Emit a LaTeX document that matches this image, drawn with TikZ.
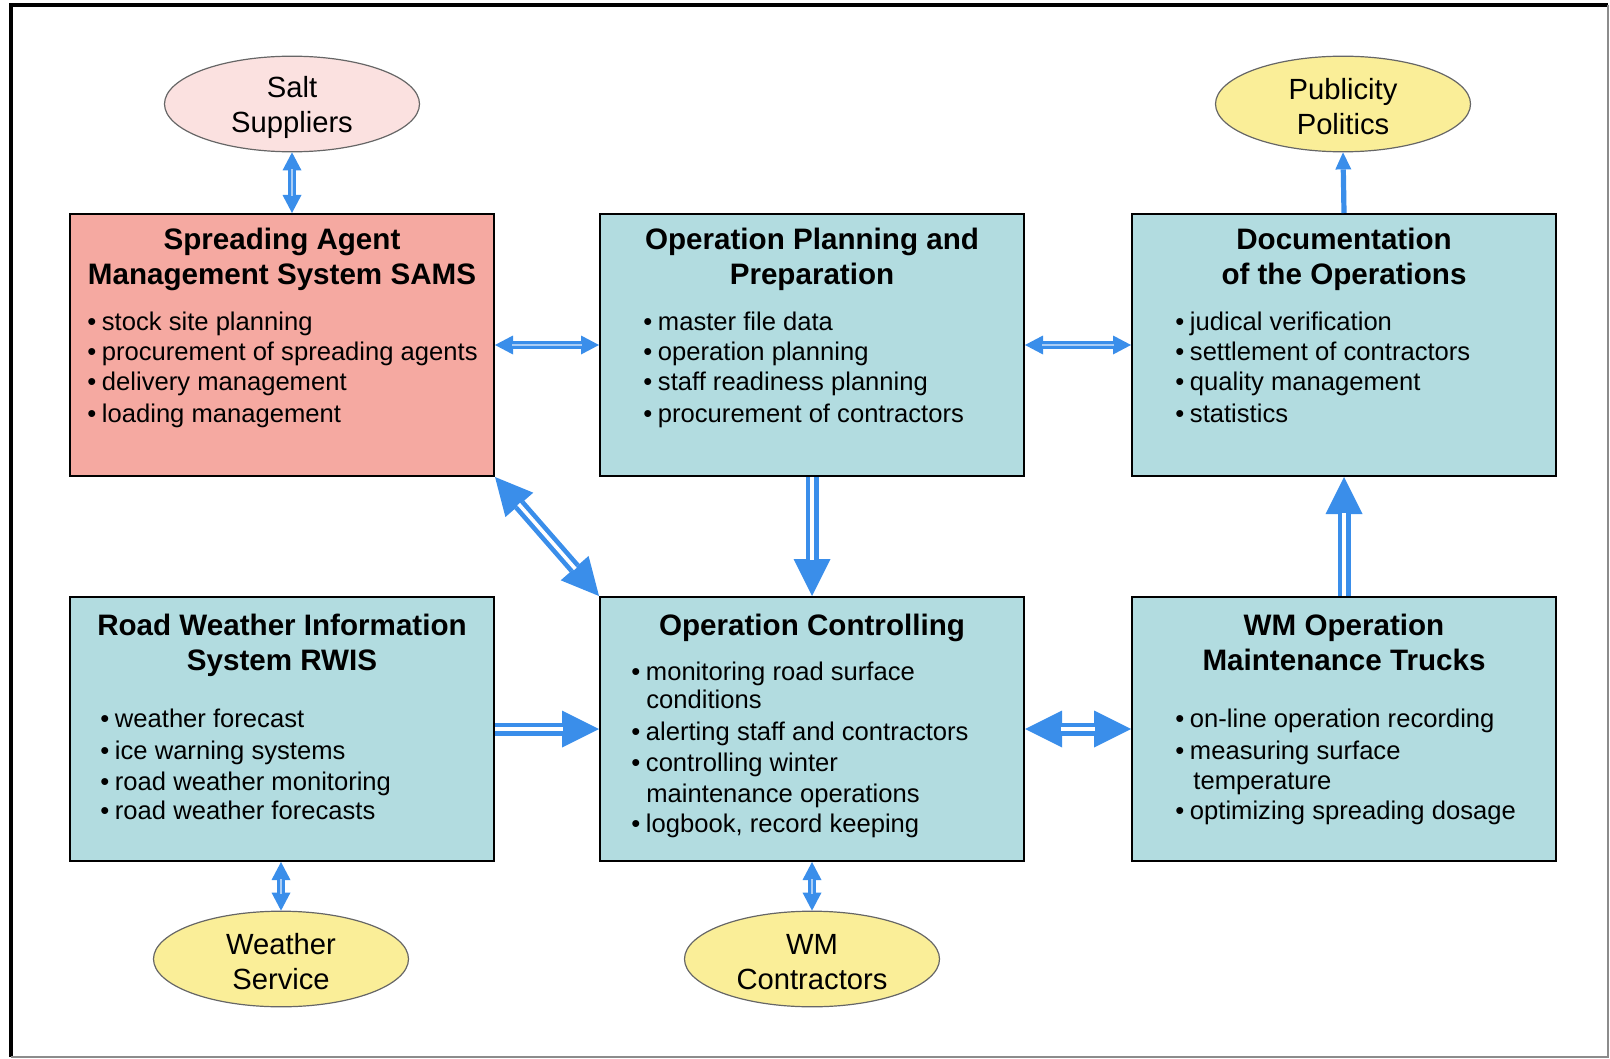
\documentclass[tikz,border=0pt]{standalone}
\usepackage{fontspec}
\setmainfont{Liberation Sans}
\usetikzlibrary{arrows.meta,shapes.geometric}
\definecolor{salmon}{RGB}{245,169,161}
\definecolor{tealfill}{RGB}{178,220,224}
\definecolor{pinkell}{RGB}{251,225,224}
\definecolor{yellell}{RGB}{250,238,152}
\definecolor{arrblue}{RGB}{58,142,234}
\definecolor{lightblue}{RGB}{170,205,245}
\tikzset{
  sm/.tip={Triangle[length=9pt,width=9.5pt,line width=0pt]},
  bg/.tip={Triangle[length=18.5pt,width=18.5pt,line width=0pt]},
  pt/.tip={Triangle[length=8.5pt,width=8pt,line width=0pt]},
  boxa/.style={draw=black, line width=1pt, minimum width=212pt, minimum height=131pt, inner sep=0pt},
  boxb/.style={draw=black, line width=1pt, minimum width=212pt, minimum height=132pt, inner sep=0pt},
  ell/.style={ellipse, draw=black!60, line width=0.6pt, minimum width=127.5pt, minimum height=47.8pt, inner sep=0pt},
  elltxt/.style={inner sep=0pt, align=center, font=\fontsize{14.6pt}{17.5pt}\selectfont},
  ttl/.style={font=\fontsize{14.8pt}{17.5pt}\selectfont\bfseries, inner sep=0pt, anchor=mid},
  itm/.style={font=\fontsize{12.8pt}{15pt}\selectfont, inner sep=0pt, anchor=mid west},
  smallboth/.style={arrblue, line width=4pt, sm-sm},
  smallgap/.style={lightblue, line width=1.4pt, shorten <=8.5pt, shorten >=8.5pt},
  bigboth/.style={arrblue, line width=6.5pt, bg-bg},
  bigend/.style={arrblue, line width=6.5pt, -bg},
  biggapboth/.style={white, line width=1.8pt, shorten <=18pt, shorten >=18pt},
  biggapend/.style={white, line width=1.8pt, shorten >=18pt},
  single/.style={arrblue, line width=2.6pt, -pt},
}
\newcommand{\bl}{\textbullet\hspace{2.8pt}}
\begin{document}
\begin{tikzpicture}[x=0.5pt,y=-0.5pt]
\useasboundingbox (0,0) rectangle (1610,1059);
% frame
\draw[line width=2pt] (11,1057) -- (11,5) -- (1608,5);
\draw[black!45, line width=0.8pt] (1608,5) -- (1608,1057) -- (11,1057);

% boxes
\node[boxa, fill=salmon] (sams) at (282,345) {};
\node[boxa, fill=tealfill] (plan) at (812,345) {};
\node[boxa, fill=tealfill] (doc) at (1344,345) {};
\node[boxb, fill=tealfill] (rwis) at (282,729) {};
\node[boxb, fill=tealfill] (ctrl) at (812,729) {};
\node[boxb, fill=tealfill] (wm) at (1344,729) {};

% ellipses
\node[ell, fill=pinkell] (salt) at (292,104) {};
\node[elltxt] (saltT) at (292,107) {Salt\\Suppliers};
\node[ell, fill=yellell] (pub) at (1343,104) {};
\node[elltxt] (pubT) at (1343,107) {Publicity\\Politics};
\node[ell, fill=yellell] (weather) at (281,959) {};
\node[elltxt] (weatherT) at (281,962) {Weather\\Service};
\node[ell, fill=yellell] (contr) at (812,959) {};
\node[elltxt] (contrT) at (812,962) {WM\\Contractors};

% SAMS text
\node[ttl] (samsT1) at (282,244) {Spreading Agent};
\node[ttl] (samsT2) at (282,279) {Management System SAMS};
\node[itm] (samsL1) at (87,325) {\bl stock site planning};
\node[itm] (samsL2) at (87,355) {\bl procurement of spreading agents};
\node[itm] (samsL3) at (87,385) {\bl delivery management};
\node[itm] (samsL4) at (87,417) {\bl loading management};

% Planning text
\node[ttl] (planT1) at (812,244) {Operation Planning and};
\node[ttl] (planT2) at (812,279) {Preparation};
\node[itm] (planL1) at (643,325) {\bl master file data};
\node[itm] (planL2) at (643,355) {\bl operation planning};
\node[itm] (planL3) at (643,385) {\bl staff readiness planning};
\node[itm] (planL4) at (643,417) {\bl procurement of contractors};

% Documentation text
\node[ttl] (docT1) at (1344,244) {Documentation};
\node[ttl] (docT2) at (1344,279) {of the Operations};
\node[itm] (docL1) at (1175,325) {\bl judical verification};
\node[itm] (docL2) at (1175,355) {\bl settlement of contractors};
\node[itm] (docL3) at (1175,385) {\bl quality management};
\node[itm] (docL4) at (1175,417) {\bl statistics};

% RWIS text
\node[ttl] (rwisT1) at (282,630) {Road Weather Information};
\node[ttl] (rwisT2) at (282,665) {System RWIS};
\node[itm] (rwisL1) at (100,722) {\bl weather forecast};
\node[itm] (rwisL2) at (100,754) {\bl ice warning systems};
\node[itm] (rwisL3) at (100,785) {\bl road weather monitoring};
\node[itm] (rwisL4) at (100,814) {\bl road weather forecasts};

% Controlling text
\node[ttl] (ctrlT1) at (812,630) {Operation Controlling};
\node[itm] (ctrlL1) at (631,675) {\bl monitoring road surface};
\node[itm] (ctrlL2) at (646,703) {conditions};
\node[itm] (ctrlL3) at (631,735) {\bl alerting staff and contractors};
\node[itm] (ctrlL4) at (631,766) {\bl controlling winter};
\node[itm] (ctrlL5) at (646,797) {maintenance operations};
\node[itm] (ctrlL6) at (631,827) {\bl logbook, record keeping};

% WM text
\node[ttl] (wmT1) at (1344,630) {WM Operation};
\node[ttl] (wmT2) at (1344,665) {Maintenance Trucks};
\node[itm] (wmL1) at (1175,722) {\bl on-line operation recording};
\node[itm] (wmL2) at (1175,754) {\bl measuring surface};
\node[itm] (wmL3) at (1193,784) {temperature};
\node[itm] (wmL4) at (1175,814) {\bl optimizing spreading dosage};

% small double arrows
\draw[smallboth] (salt.south) -- (salt.south |- sams.north);
\draw[smallgap] (salt.south) -- (salt.south |- sams.north);
\draw[smallboth] (sams.east) -- (plan.west);
\draw[smallgap] (sams.east) -- (plan.west);
\draw[smallboth] (plan.east) -- (doc.west);
\draw[smallgap] (plan.east) -- (doc.west);
\draw[smallboth] (weather.north) -- (weather.north |- rwis.south);
\draw[smallgap] (weather.north) -- (weather.north |- rwis.south);
\draw[smallboth] (contr.north) -- (contr.north |- ctrl.south);
\draw[smallgap] (contr.north) -- (contr.north |- ctrl.south);

% single arrow to publicity
\draw[single] (doc.north) -- (pub.south);

% big arrows
\draw[bigboth] (sams.south east) -- (ctrl.north west);
\draw[biggapboth] (sams.south east) -- (ctrl.north west);
\draw[bigend] (plan.south) -- (ctrl.north);
\draw[biggapend] (plan.south) -- (ctrl.north);
\draw[bigend] (rwis.east) -- (ctrl.west);
\draw[biggapend] (rwis.east) -- (ctrl.west);
\draw[bigboth] (ctrl.east) -- (wm.west);
\draw[biggapboth] (ctrl.east) -- (wm.west);
\draw[bigend] (wm.north) -- (doc.south);
\draw[biggapend] (wm.north) -- (doc.south);
\end{tikzpicture}
\end{document}
